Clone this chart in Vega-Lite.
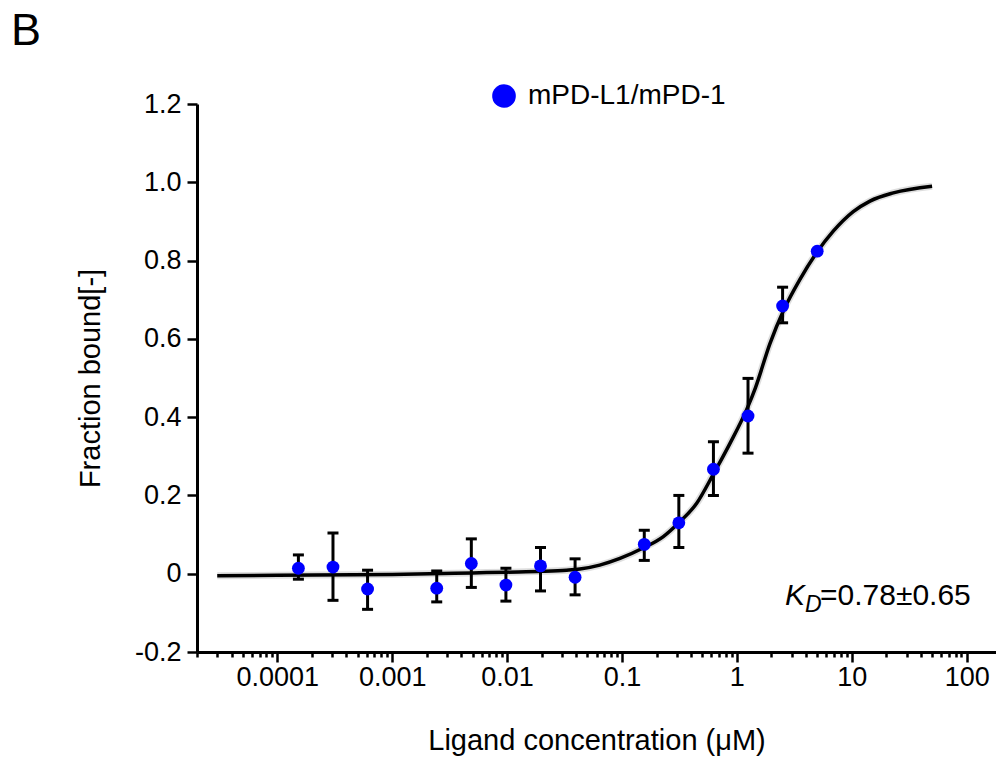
{
  "$schema": "https://vega.github.io/schema/vega-lite/v6.json",
  "width": 799,
  "height": 548,
  "autosize": {"type": "none"},
  "padding": {"left": 197, "top": 104, "right": 0, "bottom": 106},
  "background": "white",
  "config": {
    "view": {"stroke": null},
    "font": "Liberation Sans",
    "axis": {
      "grid": false,
      "domainColor": "black",
      "domainWidth": 3,
      "tickColor": "black",
      "tickWidth": 2.5,
      "labelColor": "black",
      "labelFont": "Liberation Sans",
      "labelFontSize": 27,
      "titleColor": "black",
      "titleFont": "Liberation Sans",
      "titleFontSize": 29,
      "titleFontWeight": "normal",
      "labelOverlap": false,
      "labelFlush": false
    },
    "legend": {
      "orient": "none",
      "legendX": 293,
      "legendY": -22,
      "padding": 0,
      "symbolType": "circle",
      "symbolSize": 560,
      "symbolStrokeWidth": 0,
      "labelFont": "Liberation Sans",
      "labelFontSize": 28,
      "labelColor": "black",
      "labelOffset": 10,
      "labelLimit": 0
    }
  },
  "title": {
    "text": "B",
    "anchor": "start",
    "frame": "group",
    "fontSize": 45,
    "fontWeight": "normal",
    "font": "Liberation Sans",
    "color": "black",
    "dx": -186,
    "offset": 28
  },
  "datasets": {
    "points": [
      {"c": 0.0001526, "f": 0.014, "lo": -0.014, "hi": 0.048},
      {"c": 0.0003052, "f": 0.017, "lo": -0.068, "hi": 0.104},
      {"c": 0.0006104, "f": -0.039, "lo": -0.091, "hi": 0.009},
      {"c": 0.002441, "f": -0.037, "lo": -0.072, "hi": 0.007},
      {"c": 0.004883, "f": 0.026, "lo": -0.035, "hi": 0.089},
      {"c": 0.009766, "f": -0.029, "lo": -0.070, "hi": 0.014},
      {"c": 0.01953, "f": 0.020, "lo": -0.044, "hi": 0.067},
      {"c": 0.03906, "f": -0.009, "lo": -0.054, "hi": 0.038},
      {"c": 0.1563, "f": 0.075, "lo": 0.034, "hi": 0.111},
      {"c": 0.3125, "f": 0.130, "lo": 0.067, "hi": 0.200},
      {"c": 0.625, "f": 0.267, "lo": 0.200, "hi": 0.337},
      {"c": 1.25, "f": 0.403, "lo": 0.308, "hi": 0.499},
      {"c": 2.5, "f": 0.684, "lo": 0.641, "hi": 0.732},
      {"c": 5, "f": 0.824, "lo": null, "hi": null}
    ],
    "curve": [
      {"c": 0.00003, "f": -0.005},
      {"c": 0.0001, "f": -0.004},
      {"c": 0.001, "f": -0.002},
      {"c": 0.005, "f": 0.002},
      {"c": 0.01, "f": 0.004},
      {"c": 0.02, "f": 0.006},
      {"c": 0.033, "f": 0.009},
      {"c": 0.043, "f": 0.012},
      {"c": 0.064, "f": 0.022},
      {"c": 0.096, "f": 0.039},
      {"c": 0.151, "f": 0.065},
      {"c": 0.229, "f": 0.095},
      {"c": 0.309, "f": 0.129},
      {"c": 0.447, "f": 0.180},
      {"c": 0.623, "f": 0.254},
      {"c": 0.871, "f": 0.333},
      {"c": 1.24, "f": 0.425},
      {"c": 1.45, "f": 0.475},
      {"c": 1.94, "f": 0.588},
      {"c": 2.57, "f": 0.675},
      {"c": 3.54, "f": 0.752},
      {"c": 4.94, "f": 0.82},
      {"c": 6.9, "f": 0.875},
      {"c": 10.3, "f": 0.925},
      {"c": 14.4, "f": 0.952},
      {"c": 23, "f": 0.973},
      {"c": 50, "f": 0.99}
    ]
  },
  "encoding": {
    "x": {
      "field": "c",
      "type": "quantitative",
      "scale": {"type": "log", "domain": [0.00002, 180], "nice": false},
      "axis": {
        "title": "Ligand concentration (μM)",
        "titlePadding": 36,
        "labelPadding": 2,
        "format": "~g",
        "values": [0.00002, 0.00003, 0.00004, 0.00005, 0.00006, 0.00007, 0.00008, 0.00009,
                   0.0001, 0.0002, 0.0003, 0.0004, 0.0005, 0.0006, 0.0007, 0.0008, 0.0009,
                   0.001, 0.002, 0.003, 0.004, 0.005, 0.006, 0.007, 0.008, 0.009,
                   0.01, 0.02, 0.03, 0.04, 0.05, 0.06, 0.07, 0.08, 0.09,
                   0.1, 0.2, 0.3, 0.4, 0.5, 0.6, 0.7, 0.8, 0.9,
                   1, 2, 3, 4, 5, 6, 7, 8, 9,
                   10, 20, 30, 40, 50, 60, 70, 80, 90, 100],
        "labelExpr": "abs(log(datum.value)/LN10 - round(log(datum.value)/LN10)) < 0.001 && datum.value > 0.00005 ? datum.label : ''",
        "tickSize": {"condition": {"test": "abs(log(datum.value)/LN10 - round(log(datum.value)/LN10)) < 0.001", "value": 10}, "value": 5}
      }
    },
    "y": {
      "field": "f",
      "type": "quantitative",
      "scale": {"domain": [-0.2, 1.2], "nice": false, "zero": false},
      "axis": {
        "title": "Fraction bound[-]",
        "titlePadding": 29,
        "labelPadding": 6,
        "tickSize": 10,
        "values": [-0.2, 0, 0.2, 0.4, 0.6, 0.8, 1.0, 1.2],
        "labelExpr": "datum.value == 0 ? '0' : (datum.value < 0 ? '-' + format(-datum.value, '.1f') : format(datum.value, '.1f'))"
      }
    }
  },
  "layer": [
    {
      "data": {"name": "curve"},
      "mark": {"type": "line", "interpolate": "monotone", "color": "#c8c8c8", "strokeWidth": 7, "opacity": 0.6},
      "encoding": {}
    },
    {
      "data": {"name": "curve"},
      "mark": {"type": "line", "interpolate": "monotone", "color": "black", "strokeWidth": 3.5},
      "encoding": {}
    },
    {
      "data": {"name": "points"},
      "transform": [{"filter": "datum.lo != null"}],
      "mark": {
        "type": "errorbar",
        "ticks": {"size": 11, "color": "black", "thickness": 3, "opacity": 1},
        "rule": {"color": "black", "strokeWidth": 3, "opacity": 1}
      },
      "encoding": {
        "y": {"field": "lo", "type": "quantitative"},
        "y2": {"field": "hi"}
      }
    },
    {
      "data": {"name": "points"},
      "mark": {"type": "circle", "opacity": 1, "size": 165},
      "encoding": {
        "color": {"datum": "mPD-L1/mPD-1", "scale": {"range": ["#0000ff"]}, "legend": {"title": null}}
      }
    },
    {
      "data": {"values": [{"c": 2.62, "f": -0.08}]},
      "mark": {"type": "text", "text": "K", "align": "left", "baseline": "alphabetic", "fontSize": 30, "fontStyle": "italic", "font": "Liberation Sans", "color": "black"},
      "encoding": {}
    },
    {
      "data": {"values": [{"c": 3.91, "f": -0.098}]},
      "mark": {"type": "text", "text": "D", "align": "left", "baseline": "alphabetic", "fontSize": 23, "fontStyle": "italic", "font": "Liberation Sans", "color": "black"},
      "encoding": {}
    },
    {
      "data": {"values": [{"c": 5.29, "f": -0.08}]},
      "mark": {"type": "text", "text": "=0.78±0.65", "align": "left", "baseline": "alphabetic", "fontSize": 30, "font": "Liberation Sans", "color": "black"},
      "encoding": {}
    }
  ]
}
